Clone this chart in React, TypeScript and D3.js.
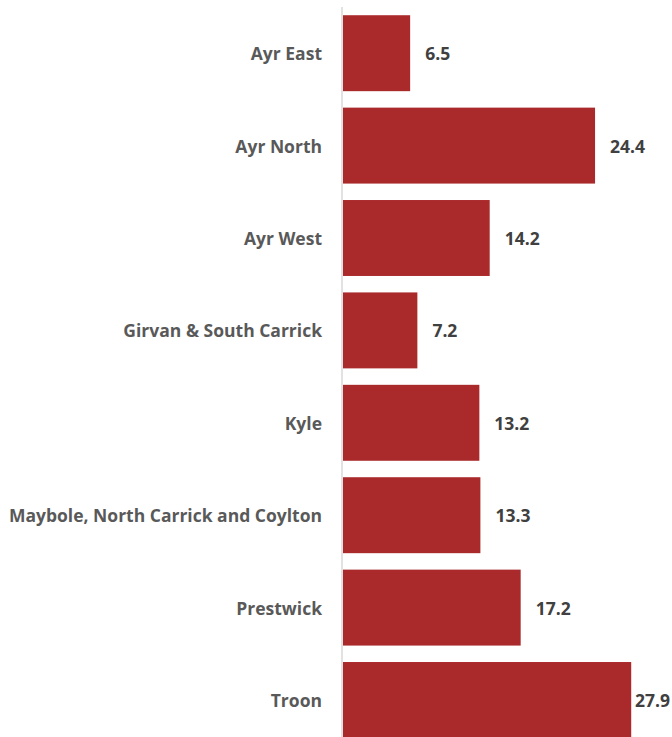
import React from "react";
import * as d3 from "d3";

const categories = [
  "Ayr East",
  "Ayr North",
  "Ayr West",
  "Girvan & South Carrick",
  "Kyle",
  "Maybole, North Carrick and Coylton",
  "Prestwick",
  "Troon",
];
const values = [6.5, 24.4, 14.2, 7.2, 13.2, 13.3, 17.2, 27.9];

const W = 672;
const H = 737;

export default function App() {
  const x0 = 343;
  const x = d3.scaleLinear().domain([0, 28]).range([x0, x0 + 28 * 10.33]);
  const y = d3
    .scaleBand<string>()
    .domain(categories)
    .range([7, 7 + 8 * 92.4])
    .paddingInner(0.178)
    .paddingOuter(0.089);
  const font = "'Open Sans', sans-serif";
  return (
    <svg
      width={W}
      height={H}
      style={{ position: "absolute", left: 0, top: 0, background: "#fff" }}
    >
      {categories.map((c, i) => {
        const yy = y(c)!;
        const xe = x(values[i]);
        return (
          <g key={c}>
            <rect
              x={x0}
              y={yy}
              width={xe - x0}
              height={y.bandwidth()}
              fill="#AA292B"
            />
            <text
              x={322}
              y={yy + y.bandwidth() / 2}
              textAnchor="end"
              dominantBaseline="central"
              fontFamily={font}
              fontWeight={700}
              fontSize={17.5}
              fill="#595959"
            >
              {c}
            </text>
            <text
              x={Math.min(xe + 15, W - 37)}
              y={yy + y.bandwidth() / 2}
              dominantBaseline="central"
              fontFamily={font}
              fontWeight={700}
              fontSize={17.5}
              fill="#404040"
            >
              {d3.format(".1f")(values[i])}
            </text>
          </g>
        );
      })}
      <line x1={342} x2={342} y1={7} y2={H} stroke="#d9d9d9" strokeWidth={1.5} />
    </svg>
  );
}
